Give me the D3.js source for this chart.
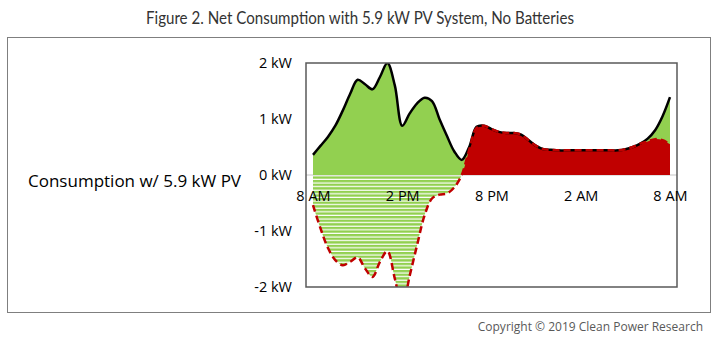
<!DOCTYPE html>
<html><head><meta charset="utf-8">
<script src="https://cdn.jsdelivr.net/npm/d3@7"></script>
<style>body{margin:0;background:#fff}svg{display:block}text{font-family:"Open Sans",sans-serif}</style>
</head><body><svg id="c" width="720" height="344"></svg>
<script>
// hours after 8 AM, half-hour steps
const hours = d3.range(0, 24.01, 0.5);
const consumption = [0.36,0.52,0.68,0.88,1.15,1.45,1.70,1.62,1.53,1.75,2.0,1.6,0.88,1.1,1.28,1.38,1.32,1.0,0.7,0.42,0.27,0.5,0.86,0.88,0.82,0.77,0.75,0.75,0.72,0.62,0.52,0.46,0.45,0.44,0.44,0.44,0.44,0.44,0.44,0.44,0.44,0.44,0.46,0.5,0.56,0.65,0.8,1.05,1.39];
const netConsumption = [-0.54,-0.95,-1.3,-1.52,-1.61,-1.55,-1.47,-1.67,-1.82,-1.55,-1.36,-1.85,-2.35,-1.8,-1.25,-0.72,-0.42,-0.35,-0.33,-0.22,0.0,0.45,0.84,0.88,0.82,0.77,0.75,0.75,0.72,0.62,0.52,0.46,0.45,0.44,0.44,0.44,0.44,0.44,0.44,0.44,0.44,0.44,0.46,0.5,0.56,0.6,0.64,0.62,0.55];
const xTickHours = [0,6,12,18,24];
const xTickLabels = ["8 AM","2 PM","8 PM","2 AM","8 AM"];
const yTicks = [2,1,0,-1,-2];
const yTickLabels = ["2 kW","1 kW","0 kW","-1 kW","-2 kW"];

const svg = d3.select("#c");
const W = 720, H = 344;
const plot = {l:306, r:677, t:63, b:287};
const x = d3.scaleLinear().domain([0,24]).range([313,670]);
const y = d3.scaleLinear().domain([-2,2]).range([plot.b, plot.t]);

const green = "#92D050", red = "#C00000";

const defs = svg.append("defs");
const pat = defs.append("pattern").attr("id","hatch").attr("patternUnits","userSpaceOnUse")
  .attr("width",8).attr("height",3.6);
pat.append("rect").attr("width",8).attr("height",3.6).attr("fill","#fff");
pat.append("rect").attr("width",8).attr("height",2.4).attr("fill",green);
defs.append("clipPath").attr("id","clip").append("rect")
  .attr("x",plot.l).attr("y",plot.t).attr("width",plot.r-plot.l).attr("height",plot.b-plot.t);

// outer frame
svg.append("rect").attr("x",7.5).attr("y",37.5).attr("width",703).attr("height",275)
  .attr("fill","none").attr("stroke","#7f7f7f").attr("stroke-width",1);

// title (condensed slightly to the reference width)
const title = svg.append("text").attr("x",360).attr("y",24).attr("text-anchor","middle")
  .attr("font-size",17).attr("fill","#333").style("font-family","Lato, sans-serif")
  .text("Figure 2. Net Consumption with 5.9 kW PV System, No Batteries");
const tl = title.node().getComputedTextLength();
if (tl > 430) title.attr("textLength",428).attr("lengthAdjust","spacingAndGlyphs");

svg.append("text").attr("x",28).attr("y",187).attr("font-size",17).attr("fill","#000")
  .text("Consumption w/ 5.9 kW PV");

svg.append("text").attr("x",703).attr("y",331).attr("text-anchor","end")
  .attr("font-size",12).attr("fill","#595959")
  .text("Copyright \u00A9 2019 Clean Power Research");

const data = hours.map((h,i)=>({h, c:consumption[i], n:netConsumption[i]}));
const curve = d3.curveCatmullRom.alpha(0.5);

// zero line
svg.append("line").attr("x1",plot.l).attr("x2",plot.r).attr("y1",y(0)).attr("y2",y(0))
  .attr("stroke","#d9d9d9").attr("stroke-width",1.5);

const g = svg.append("g").attr("clip-path","url(#clip)");

// green area under consumption
g.append("path").datum(data).attr("fill",green)
  .attr("d", d3.area().curve(curve).x(d=>x(d.h)).y0(y(0)).y1(d=>y(d.c)));

// net area (red above zero, hatched below)
const netArea = d3.area().curve(curve).x(d=>x(d.h)).y0(y(0)).y1(d=>y(d.n));
defs.append("clipPath").attr("id","pos").append("rect")
  .attr("x",0).attr("y",0).attr("width",W).attr("height",y(0));
defs.append("clipPath").attr("id","neg").append("rect")
  .attr("x",0).attr("y",y(0)+0.8).attr("width",W).attr("height",H);
g.append("g").attr("clip-path","url(#pos)").append("path").datum(data)
  .attr("fill",red).attr("d",netArea);
g.append("g").attr("clip-path","url(#neg)").append("path").datum(data)
  .attr("fill","url(#hatch)").attr("d",netArea);

// lines
g.append("path").datum(data).attr("fill","none").attr("stroke","#000").attr("stroke-width",2.5)
  .attr("d", d3.line().curve(curve).x(d=>x(d.h)).y(d=>y(d.c)));
g.append("path").datum(data).attr("fill","none").attr("stroke",red).attr("stroke-width",2.5)
  .attr("stroke-dasharray","7,4")
  .attr("d", d3.line().curve(curve).x(d=>x(d.h)).y(d=>y(d.n)));

// plot frame
svg.append("rect").attr("x",plot.l).attr("y",plot.t).attr("width",plot.r-plot.l).attr("height",plot.b-plot.t)
  .attr("fill","none").attr("stroke","#595959").attr("stroke-width",1.5);

// axes
const yAxis = d3.axisLeft(y).tickValues(yTicks).tickSize(0).tickPadding(14)
  .tickFormat((d,i)=>yTickLabels[i]);
const ya = svg.append("g").attr("transform",`translate(${plot.l},0)`).call(yAxis);
ya.select(".domain").remove();
ya.selectAll("text").attr("font-size",14.5).attr("fill","#000").attr("font-family","Open Sans");

const xAxis = d3.axisBottom(x).tickValues(xTickHours).tickSize(0).tickPadding(16)
  .tickFormat((d,i)=>xTickLabels[i]);
const xa = svg.append("g").attr("transform",`translate(0,${y(0)})`).call(xAxis);
xa.select(".domain").remove();
xa.selectAll("text").attr("font-size",14.5).attr("fill","#000").attr("font-family","Open Sans");
</script></body></html>
